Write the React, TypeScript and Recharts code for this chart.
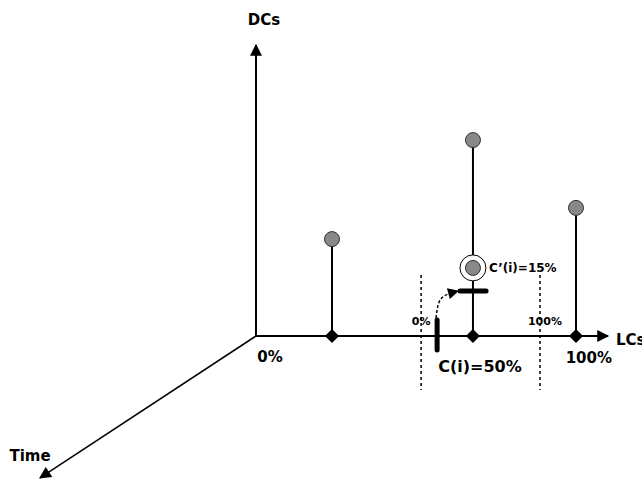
import React from "react";
import {
  ComposedChart,
  XAxis,
  YAxis,
  Scatter,
  Line,
  ReferenceLine,
  ReferenceDot,
} from "recharts";

// x: 0 = origin, 100 = right "100%" tick; y: DCs level (C'(i) bar at 15)
const stemX = [23.75, 67.8, 100];
const stemTop = [32.3, 65.3, 42.7];
const currentPoint = [{ x: 67.8, y: 22.7 }];
const cPrimeBar = { x1: 63.75, x2: 71.9, y: 15 };
const cBar = { x: 56.6, y1: 5.3, y2: -4.7 };
const windowX = [51.6, 88.75];
const windowY = [20.3, -18];
const shiftPath = [
  { x: 56.25, y: 6 },
  { x: 56.9, y: 10.3 },
  { x: 58.75, y: 13.3 },
  { x: 63.1, y: 15 },
];
const axisEnds = { lcs: 110, dcs: 97, timeX: -67.5, timeY: -47.3 };

const labels = [
  { text: "DCs", x: 2.5, y: 105.3, size: 15, anchor: "middle" },
  { text: "0%", x: 4.4, y: -7, size: 15, anchor: "middle" },
  { text: "100%", x: 104, y: -7.3, size: 15, anchor: "middle" },
  { text: "LCs", x: 112.5, y: -1.3, size: 15, anchor: "start" },
  { text: "C(i)=50%", x: 70, y: -10.3, size: 16, anchor: "middle" },
  { text: "0%", x: 51.6, y: 5, size: 11, anchor: "middle" },
  { text: "100%", x: 90.3, y: 5, size: 11, anchor: "middle" },
  { text: "C\u2019(i)=15%", x: 72.8, y: 22.7, size: 12, anchor: "start" },
  { text: "Time", x: -70.6, y: -40, size: 15, anchor: "middle" },
];

const stems = stemX.map((x, i) => ({ x, y: stemTop[i] }));
const bases = stemX.map((x) => ({ x, y: 0 }));

const font = "'DejaVu Sans', Verdana, sans-serif";

const Ball = (p: any) => (
  <circle cx={p.cx} cy={p.cy} r={7.5} fill="#888888" stroke="#333" strokeWidth={1} />
);
const Diamond = (p: any) => (
  <path
    d={`M${p.cx},${p.cy - 7} L${p.cx + 7},${p.cy} L${p.cx},${p.cy + 7} L${p.cx - 7},${p.cy} Z`}
    fill="#000"
  />
);
const Ringed = (p: any) => (
  <g>
    <circle cx={p.cx} cy={p.cy} r={13} fill="#fff" stroke="#000" strokeWidth={1} />
    <circle cx={p.cx} cy={p.cy} r={7.5} fill="#888888" stroke="#333" strokeWidth={1} />
  </g>
);

const TextLabel = (t: (typeof labels)[number]) => (props: any) => {
  const { cx, cy } = props.viewBox ?? {};
  const x = props.viewBox.x + (props.viewBox.width ?? 0) / 2;
  const y = props.viewBox.y + (props.viewBox.height ?? 0) / 2;
  return (
    <text
      x={cx ?? x}
      y={cy ?? y}
      textAnchor={t.anchor}
      dominantBaseline="central"
      fontFamily={font}
      fontWeight="bold"
      fontSize={t.size}
      fill="#000"
    >
      {t.text}
    </text>
  );
};

export default function App() {
  return (
    <div style={{ width: 642, height: 482, background: "#fff" }}>
      <style>{"body{margin:0}"}</style>
      <ComposedChart
        width={642}
        height={482}
        margin={{ top: 0, right: 2, bottom: 2, left: 0 }}
      >
        <defs>
          <marker
            id="arrowHead"
            viewBox="0 0 10 10"
            refX={9}
            refY={5}
            markerWidth={14}
            markerHeight={12}
            markerUnits="userSpaceOnUse"
            orient="auto"
          >
            <path d="M0,0 L10,5 L0,10 Z" fill="#000" />
          </marker>
          <marker
            id="smallHead"
            viewBox="0 0 10 10"
            refX={9}
            refY={5}
            markerWidth={12}
            markerHeight={11}
            markerUnits="userSpaceOnUse"
            orient="auto"
          >
            <path d="M0,0 L10,5 L0,10 Z" fill="#000" />
          </marker>
        </defs>
        <XAxis type="number" dataKey="x" domain={[-80, 120]} hide allowDataOverflow />
        <YAxis type="number" dataKey="y" domain={[-48, 112]} hide allowDataOverflow />

        {/* axes */}
        <ReferenceLine
          segment={[{ x: 0, y: 0 }, { x: axisEnds.lcs, y: 0 }]}
          stroke="#000"
          strokeWidth={2}
          markerEnd="url(#arrowHead)"
        />
        <ReferenceLine
          segment={[{ x: 0, y: 0 }, { x: 0, y: axisEnds.dcs }]}
          stroke="#000"
          strokeWidth={2}
          markerEnd="url(#arrowHead)"
        />
        <ReferenceLine
          segment={[{ x: 0, y: 0 }, { x: axisEnds.timeX, y: axisEnds.timeY }]}
          stroke="#000"
          strokeWidth={1.5}
          markerEnd="url(#arrowHead)"
        />

        {/* window dashed lines */}
        {windowX.map((x) => (
          <ReferenceLine
            key={`w${x}`}
            segment={[{ x, y: windowY[0] }, { x, y: windowY[1] }]}
            stroke="#000"
            strokeWidth={1.5}
            strokeDasharray="3 3"
          />
        ))}

        {/* stems */}
        {stems.map((s) => (
          <ReferenceLine
            key={`s${s.x}`}
            segment={[{ x: s.x, y: 0 }, { x: s.x, y: s.y }]}
            stroke="#000"
            strokeWidth={2}
          />
        ))}

        {/* C(i) and C'(i) markers */}
        <ReferenceLine
          segment={[{ x: cBar.x, y: cBar.y1 }, { x: cBar.x, y: cBar.y2 }]}
          stroke="#000"
          strokeWidth={5}
          strokeLinecap="round"
        />
        <ReferenceLine
          segment={[{ x: cPrimeBar.x1, y: cPrimeBar.y }, { x: cPrimeBar.x2, y: cPrimeBar.y }]}
          stroke="#000"
          strokeWidth={5}
          strokeLinecap="round"
        />
        <Line
          data={shiftPath}
          dataKey="y"
          type="natural"
          stroke="#000"
          strokeWidth={1.5}
          strokeDasharray="3 2"
          dot={false}
          activeDot={false}
          markerEnd="url(#smallHead)"
          isAnimationActive={false}
        />

        <Scatter data={bases} shape={Diamond} isAnimationActive={false} />
        <Scatter data={stems} shape={Ball} isAnimationActive={false} />
        <Scatter data={currentPoint} shape={Ringed} isAnimationActive={false} />

        {labels.map((t, i) => (
          <ReferenceDot
            key={`l${i}`}
            x={t.x}
            y={t.y}
            r={0}
            stroke="none"
            fill="none"
            ifOverflow="visible"
            label={{ content: TextLabel(t) }}
          />
        ))}
      </ComposedChart>
    </div>
  );
}
